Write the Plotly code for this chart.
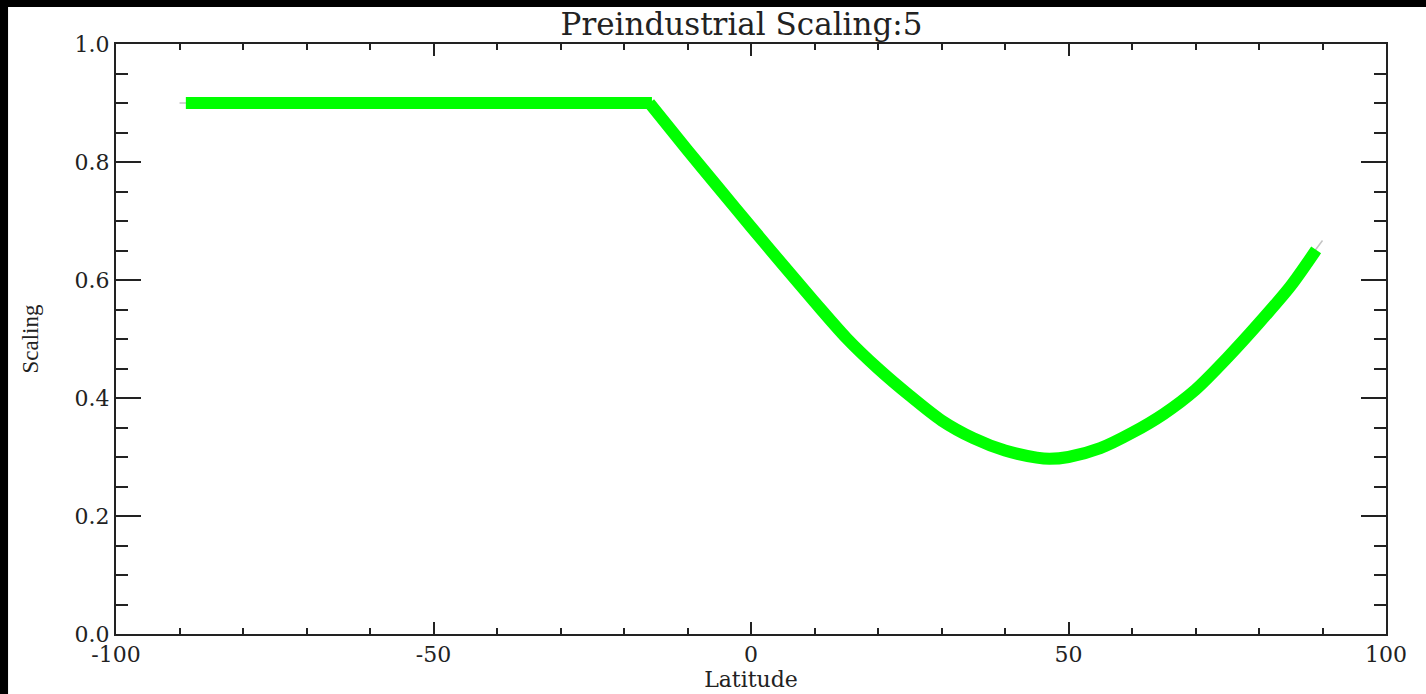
import plotly.graph_objects as go

# Green curve (thick) - latitude vs scaling: flat part and curved part
lat_flat = [-89, -80, -70, -60, -50, -40, -30, -20, -15.6]
val_flat = [0.9, 0.9, 0.9, 0.9, 0.9, 0.9, 0.9, 0.9, 0.9]

lat_curve = [-16, -10, -5, 0, 5, 10, 15, 20, 25, 30, 35, 40, 45, 47, 50, 55, 60, 65, 70, 75,
             80, 85, 89]
val_curve = [0.9, 0.82, 0.755, 0.69, 0.626, 0.563, 0.502, 0.45, 0.404, 0.362, 0.332, 0.311,
             0.299, 0.297, 0.300, 0.315, 0.341, 0.373, 0.414, 0.468, 0.527, 0.590, 0.651]

# Thin gray reference curve underneath
lat_gray = [-90, -80, -70, -60, -50, -40, -30, -20, -16, -10, -5, 0, 5, 10, 15, 20, 25, 30, 35,
            40, 45, 47, 50, 55, 60, 65, 70, 75, 80, 85, 90]
val_gray = [0.9, 0.9, 0.9, 0.9, 0.9, 0.9, 0.9, 0.9, 0.9, 0.82, 0.752, 0.684, 0.618, 0.553, 0.49,
            0.44, 0.394, 0.355, 0.327, 0.309, 0.298, 0.297, 0.300, 0.315, 0.342, 0.373, 0.417,
            0.472, 0.532, 0.596, 0.667]

x_tickvals = [-100, -50, 0, 50, 100]
x_ticktext = ["-100", "-50", "0", "50", "100"]

title_text = "Preindustrial Scaling:5"
x_label = "Latitude"
y_label = "Scaling"

fig = go.Figure()
fig.add_trace(go.Scatter(x=lat_gray, y=val_gray, mode="lines",
                         line=dict(color="#c4c4c4", width=1.5, shape="spline", smoothing=0.8),
                         showlegend=False, hoverinfo="skip"))
fig.add_trace(go.Scatter(x=lat_flat, y=val_flat, mode="lines",
                         line=dict(color="#00ff00", width=12),
                         showlegend=False))
fig.add_trace(go.Scatter(x=lat_curve, y=val_curve, mode="lines",
                         line=dict(color="#00ff00", width=12, shape="spline", smoothing=0.8),
                         showlegend=False))

axis_color = "#222222"
fig.update_xaxes(range=[-100, 100], tickmode="array", tickvals=x_tickvals, ticktext=x_ticktext,
                 ticks="inside", ticklen=12, tickwidth=2, tickcolor=axis_color,
                 minor=dict(tickmode="linear", tick0=-100, dtick=10, ticklen=6, tickwidth=2,
                            tickcolor=axis_color, ticks="inside"),
                 showline=True, linecolor=axis_color, linewidth=2, mirror="ticks",
                 showgrid=False, zeroline=False,
                 tickfont=dict(family="DejaVu Serif", size=22, color="#222"),
                 title=dict(text=x_label, font=dict(family="DejaVu Serif", size=22, color="#222"),
                            standoff=0))
fig.update_yaxes(range=[0, 1], tickmode="linear", tick0=0, dtick=0.2, tickformat=".1f",
                 ticks="inside", ticklen=25, tickwidth=2, tickcolor=axis_color,
                 minor=dict(dtick=0.05, ticklen=12, tickwidth=2, tickcolor=axis_color, ticks="inside"),
                 showline=True, linecolor=axis_color, linewidth=2, mirror="ticks",
                 showgrid=False, zeroline=False,
                 tickfont=dict(family="DejaVu Serif", size=22, color="#222"),
                 title=dict(text=y_label, font=dict(family="Liberation Serif", size=23, color="#222"),
                            standoff=30))

fig.add_shape(type="rect", xref="paper", yref="paper",
              x0=-0.085, x1=1.1, y0=-0.2, y1=1.0627,
              fillcolor="white", line=dict(width=0), layer="below")

fig.update_layout(
    width=1426, height=694,
    margin=dict(l=116, r=40, t=44, b=60, autoexpand=False),
    paper_bgcolor="black", plot_bgcolor="white",
    title=dict(text=title_text, x=0.52, xanchor="center", y=1 - 24 / 694, yanchor="middle",
               yref="container",
               font=dict(family="DejaVu Serif", size=31, color="#222")),
)

fig.write_html("out.html", config={"displayModeBar": False},
               post_script="document.body.style.margin='0';")
